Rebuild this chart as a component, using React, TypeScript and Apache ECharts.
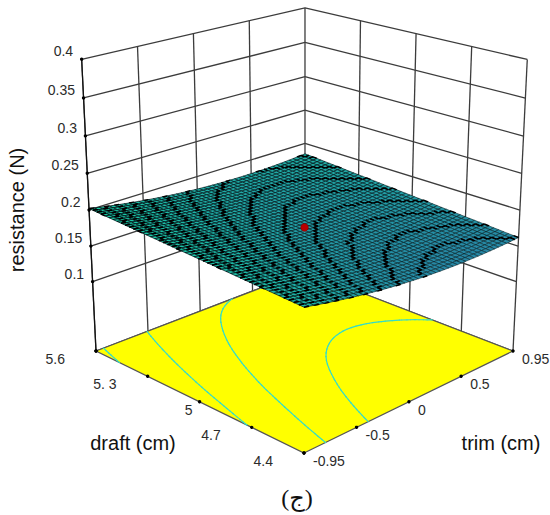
import React, { useEffect, useRef } from "react";
import * as echarts from "echarts";

const resistanceTicks = [0.1, 0.15, 0.2, 0.25, 0.3, 0.35, 0.4];
const trimTickLabels = ["-0.95", "-0.5", "0", "0.5", "0.95"];
const draftTickLabels = ["4.4", "4.7", "5", "5. 3", "5.6"];
const contourLevels = [0.17, 0.18, 0.19, 0.2];
const designPoints = [[0, 5, 0.176]];
const trimGrid = [-0.95, -0.7125, -0.475, -0.2375, 0, 0.2375, 0.475, 0.7125, 0.95];
const draftGrid = [4.4, 4.55, 4.7, 4.85, 5, 5.15, 5.3, 5.45, 5.6];
// resistance: one row per draftGrid value, one column per trimGrid value
const resistance = [
  [0.186, 0.178, 0.1714, 0.1662, 0.1625, 0.1602, 0.1594, 0.16, 0.162],
  [0.188, 0.1801, 0.1736, 0.1685, 0.1649, 0.1627, 0.1619, 0.1626, 0.1648],
  [0.19, 0.1822, 0.1758, 0.1708, 0.1673, 0.1652, 0.1645, 0.1653, 0.1675],
  [0.192, 0.1843, 0.1779, 0.1731, 0.1696, 0.1676, 0.1671, 0.1679, 0.1703],
  [0.194, 0.1863, 0.1801, 0.1753, 0.172, 0.1701, 0.1696, 0.1706, 0.173],
  [0.196, 0.1884, 0.1823, 0.1776, 0.1744, 0.1726, 0.1722, 0.1732, 0.1758],
  [0.198, 0.1905, 0.1845, 0.1799, 0.1768, 0.175, 0.1748, 0.1759, 0.1785],
  [0.2, 0.1926, 0.1867, 0.1822, 0.1791, 0.1775, 0.1773, 0.1785, 0.1813],
  [0.202, 0.1947, 0.1889, 0.1845, 0.1815, 0.18, 0.1799, 0.1812, 0.184],
];

// view: perspective of the box, unit trim/draft square, height 0..zMax
const F = [304, 453], R = [513, 351], L = [96, 351];
const G = 0.1378, H = 0.1372, K = -0.07306, VX = 305, VY = 4600, Z_MAX = 0.4;
const TICK_POS = [0, 0.228, 0.47, 0.727, 1];
const U = (t: number) => (t + 0.95) / 1.9;
const V = (d: number) => (d - 4.4) / 1.2;
function proj(u: number, v: number, z: number) {
  const D = 1 + G * u + H * v;
  const nx = (R[0] * (1 + G) - F[0]) * u + (L[0] * (1 + H) - F[0]) * v + F[0];
  const ny = (R[1] * (1 + G) - F[1]) * u + (L[1] * (1 + H) - F[1]) * v + F[1];
  const t = (z / Z_MAX) * K;
  return [(nx + t * VX) / (D + t), (ny + t * VY) / (D + t)];
}

const SUB = 6;
const STEP = 0.003;
const TICK_FONT = '14px "Liberation Sans", Arial, sans-serif';
const TITLE_FONT = '20px "Liberation Sans", Arial, sans-serif';
const TEXT = "#2b2b2b";

function surfaceMix(z: number) {
  return Math.max(0, Math.min(1, (z - 0.16) / 0.042));
}
function surfaceColor(z: number) {
  const m = surfaceMix(z);
  const r = Math.round(38 - 14 * m);
  const g = Math.round(135 + 75 * m);
  const b = Math.round(165 + 0 * m);
  return `rgb(${r},${g},${b})`;
}

function spline(a: number, b: number, c: number, d: number, t: number) {
  return 0.5 * (2 * b + (c - a) * t + (2 * a - 5 * b + 4 * c - d) * t * t + (3 * b - a - 3 * c + d) * t * t * t);
}
function cell(j: number, i: number): number {
  const nx = trimGrid.length, ny = draftGrid.length;
  if (j < 0) return 3 * cell(0, i) - 3 * cell(1, i) + cell(2, i);
  if (j >= ny) return 3 * cell(ny - 1, i) - 3 * cell(ny - 2, i) + cell(ny - 3, i);
  if (i < 0) return 3 * cell(j, 0) - 3 * cell(j, 1) + cell(j, 2);
  if (i >= nx) return 3 * cell(j, nx - 1) - 3 * cell(j, nx - 2) + cell(j, nx - 3);
  return resistance[j][i];
}
// height of the surface drawn through the table
function zAt(i: number, j: number, a: number, b: number) {
  const row = [-1, 0, 1, 2].map((dj) =>
    spline(cell(j + dj, i - 1), cell(j + dj, i), cell(j + dj, i + 1), cell(j + dj, i + 2), a),
  );
  return spline(row[0], row[1], row[2], row[3], b);
}

// patches of the read table, from back to front
const patches: number[][] = [];
for (let j = draftGrid.length - 2; j >= 0; j--) {
  for (let i = trimGrid.length - 2; i >= 0; i--) patches.push([i, j]);
}

function eachFacet(p: number[], cb: (u: number[], v: number[], z: number[]) => void) {
  const [i, j] = p;
  const u0 = U(trimGrid[i]), u1 = U(trimGrid[i + 1]), v0 = V(draftGrid[j]), v1 = V(draftGrid[j + 1]);
  for (let b = SUB - 1; b >= 0; b--) {
    for (let a = SUB - 1; a >= 0; a--) {
      const a0 = a / SUB, a1 = (a + 1) / SUB, b0 = b / SUB, b1 = (b + 1) / SUB;
      cb(
        [u0 + (u1 - u0) * a0, u0 + (u1 - u0) * a1],
        [v0 + (v1 - v0) * b0, v0 + (v1 - v0) * b1],
        [zAt(i, j, a0, b0), zAt(i, j, a1, b0), zAt(i, j, a1, b1), zAt(i, j, a0, b1)],
      );
    }
  }
}

// box lines: [u1, v1, z1, u2, v2, z2]
const wallLines: number[][] = [];
resistanceTicks.forEach((z) => {
  wallLines.push([0, 1, z, 1, 1, z]);
  wallLines.push([1, 1, z, 1, 0, z]);
});
TICK_POS.forEach((t, i) => {
  wallLines.push([t, 1, 0, t, 1, Z_MAX]);
  if (i < 4) wallLines.push([1, t, 0, 1, t, Z_MAX]);
});
wallLines.push([0, 1, 0, 1, 1, 0], [1, 1, 0, 1, 0, 0]);

const tickDots: number[][] = [
  ...resistanceTicks.map((z) => [0, 1, z]),
  [0, 1, 0],
  ...TICK_POS.map((t) => [t, 0, 0]),
  ...TICK_POS.map((t) => [0, t, 0]),
];

const labelRows: any[] = [
  ...resistanceTicks.map((z) => ({ value: [0, 1, z], name: String(z), kind: "z" })),
  ...trimTickLabels.map((s, i) => ({ value: [TICK_POS[i], 0, 0], name: s, kind: "trim" })),
  ...draftTickLabels.map((s, i) => ({ value: [0, TICK_POS[i], 0], name: s, kind: "draft" })),
];

function App() {
  const ref = useRef<HTMLDivElement>(null);
  useEffect(() => {
    document.body.style.margin = "0";
    const chart = echarts.init(ref.current!, undefined, { renderer: "svg" });
    const pt = (a: number[]) => proj(a[0], a[1], a[2]);
    chart.setOption({
      animation: false,
      backgroundColor: "#ffffff",
      series: [
        {
          type: "custom", coordinateSystem: "none", silent: true, clip: false, z: 1,
          data: wallLines,
          renderItem: (_: any, api: any) => {
            const a = proj(api.value(0), api.value(1), api.value(2));
            const b = proj(api.value(3), api.value(4), api.value(5));
            return {
              type: "line",
              shape: { x1: a[0], y1: a[1], x2: b[0], y2: b[1] },
              style: { stroke: "#3c3c3c", lineWidth: 1.3 },
            };
          },
        },
        {
          // left upright edge
          type: "custom", coordinateSystem: "none", silent: true, clip: false, z: 2,
          data: [[0, 1, 0, 0, 1, Z_MAX]],
          renderItem: (_: any, api: any) => {
            const a = proj(api.value(0), api.value(1), api.value(2));
            const b = proj(api.value(3), api.value(4), api.value(5));
            return {
              type: "line",
              shape: { x1: a[0], y1: a[1], x2: b[0], y2: b[1] },
              style: { stroke: "#111", lineWidth: 1.2 },
            };
          },
        },
        {
          // floor
          type: "custom", coordinateSystem: "none", silent: true, clip: false, z: 3,
          data: [[0, 0]],
          renderItem: () => ({
            type: "polygon",
            shape: { points: [pt([0, 0, 0]), pt([1, 0, 0]), pt([1, 1, 0]), pt([0, 1, 0])] },
            style: { fill: "#ffff00", stroke: "#555", lineWidth: 1.2 },
          }),
        },
        {
          // floor contours from the table
          type: "custom", coordinateSystem: "none", silent: true, clip: false, z: 4,
          data: patches,
          renderItem: (params: any) => {
            const p = patches[params.dataIndex];
            const children: any[] = [];
            eachFacet(p, (u, v, z) => {
              const c = [[u[0], v[0]], [u[1], v[0]], [u[1], v[1]], [u[0], v[1]]];
              contourLevels.forEach((lv) => {
                const hits: number[][] = [];
                for (let e = 0; e < 4; e++) {
                  const n = (e + 1) % 4;
                  if (z[e] < lv !== z[n] < lv) {
                    const m = (lv - z[e]) / (z[n] - z[e]);
                    hits.push(proj(c[e][0] + (c[n][0] - c[e][0]) * m, c[e][1] + (c[n][1] - c[e][1]) * m, 0));
                  }
                }
                if (hits.length >= 2) {
                  children.push({
                    type: "line",
                    shape: { x1: hits[0][0], y1: hits[0][1], x2: hits[1][0], y2: hits[1][1] },
                    style: { stroke: "#35dcc8", lineWidth: 1.2, lineCap: "round" },
                  });
                }
              });
            });
            return { type: "group", children };
          },
        },
        {
          // response surface
          type: "custom", coordinateSystem: "none", silent: true, clip: false, z: 5,
          data: patches,
          renderItem: (params: any) => {
            const p = patches[params.dataIndex];
            const children: any[] = [];
            eachFacet(p, (u, v, z) => {
              const mean = (z[0] + z[1] + z[2] + z[3]) / 4;
              const c = [
                proj(u[0], v[0], z[0]), proj(u[1], v[0], z[1]),
                proj(u[1], v[1], z[2]), proj(u[0], v[1], z[3]),
              ];
              children.push({
                type: "polygon",
                shape: { points: c },
                style: {
                  fill: surfaceColor(mean),
                  stroke: "#02181c",
                  lineWidth: 0.5 + 0.35 * surfaceMix(mean),
                },
              });
              for (let e = 0; e < 4; e++) {
                const n = (e + 1) % 4;
                if (Math.floor(z[e] / STEP) !== Math.floor(z[n] / STEP)) {
                  children.push({
                    type: "line",
                    shape: { x1: c[e][0], y1: c[e][1], x2: c[n][0], y2: c[n][1] },
                    style: { stroke: "#000", lineWidth: 1.5 },
                  });
                }
              }
            });
            return { type: "group", children };
          },
        },
        {
          type: "custom", coordinateSystem: "none", silent: true, clip: false, z: 6,
          data: designPoints,
          renderItem: (_: any, api: any) => {
            const q = proj(U(api.value(0)), V(api.value(1)), api.value(2));
            return {
              type: "circle",
              shape: { cx: q[0], cy: q[1], r: 3.8 },
              style: { fill: "#b80000", stroke: "#8a0000", lineWidth: 0.6 },
            };
          },
        },
        {
          type: "custom", coordinateSystem: "none", silent: true, clip: false, z: 7,
          data: tickDots,
          renderItem: (_: any, api: any) => {
            const q = proj(api.value(0), api.value(1), api.value(2));
            return { type: "circle", shape: { cx: q[0], cy: q[1], r: 1.7 }, style: { fill: "#000" } };
          },
        },
        {
          type: "custom", coordinateSystem: "none", silent: true, clip: false, z: 8,
          data: labelRows,
          renderItem: (params: any, api: any) => {
            const row = labelRows[params.dataIndex];
            const q = proj(api.value(0), api.value(1), api.value(2));
            let x = q[0], y = q[1], align = "left";
            if (row.kind === "z") { x -= 8.5; y -= 8; align = "right"; }
            if (row.kind === "trim") { x += 9; y += 8; }
            if (row.kind === "draft") { x -= row.name === "5" ? 7 : 31; y += 8; align = "right"; }
            return {
              type: "text", x, y,
              style: { text: row.name, font: TICK_FONT, fill: TEXT, textAlign: align, textVerticalAlign: "middle" },
            };
          },
        },
      ],
      graphic: [
        { type: "text", x: 16.5, y: 210, rotation: Math.PI / 2, z: 20,
          style: { text: "resistance (N)", font: TITLE_FONT, fill: "#111", textAlign: "center", textVerticalAlign: "middle" } },
        { type: "text", x: 133, y: 443, z: 20,
          style: { text: "draft (cm)", font: TITLE_FONT, fill: "#111", textAlign: "center", textVerticalAlign: "middle" } },
        { type: "text", x: 501, y: 443, z: 20,
          style: { text: "trim (cm)", font: TITLE_FONT, fill: "#111", textAlign: "center", textVerticalAlign: "middle" } },
        { type: "text", x: 297, y: 498, z: 20,
          style: { text: "(ج)", font: '24px "Liberation Serif", "DejaVu Sans", serif', fill: "#111", textAlign: "center", textVerticalAlign: "middle" } },
      ],
    });
    return () => chart.dispose();
  }, []);
  return <div ref={ref} style={{ width: 550, height: 515 }} />;
}

export default App;
